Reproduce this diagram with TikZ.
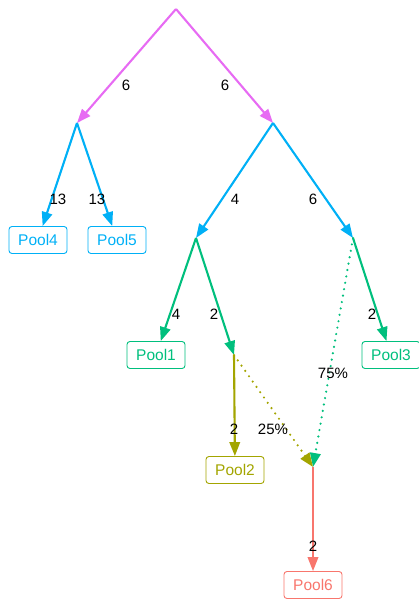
\documentclass[tikz,border=0pt]{standalone}
\usepackage{fontspec}
\setmainfont{Liberation Sans}
\usetikzlibrary{arrows.meta, positioning}

\definecolor{poolMag}{HTML}{E76BF3}
\definecolor{poolBlue}{HTML}{00B0F6}
\definecolor{poolGreen}{HTML}{00BF7D}
\definecolor{poolOlive}{HTML}{A3A500}
\definecolor{poolRed}{HTML}{F8766D}

\tikzset{
    pool/.style={draw, rounded corners=3pt, line width=0.9pt, minimum width=58pt,
                 minimum height=27pt, inner sep=1pt, font=\fontsize{15.5}{17}\selectfont},
    flow/.style={line width=2.1pt, -{Triangle[length=14pt,width=10.5pt]}},
    split/.style={flow, line width=2.4pt, dash pattern=on 0pt off 6.5pt, line cap=round},
    amount/.style={inner sep=0pt, font=\fontsize{15}{17}\selectfont},
}

\begin{document}
\begin{tikzpicture}[x=1pt, y=-1pt]
    \useasboundingbox (0,0) rectangle (419,599);

    % branching points
    \coordinate (root) at (176,9);
    \coordinate (b1) at (77,123);
    \coordinate (b2) at (273,123);
    \coordinate (b3) at (196,238);
    \coordinate (b4) at (353,238);
    \coordinate (b5) at (234,355);
    \coordinate (b6) at (313,467);

    % pools
    \node[pool, poolBlue] (pool4) at (38,240) {Pool4};
    \node[pool, poolBlue] (pool5) at (117,240) {Pool5};
    \node[pool, poolGreen] (pool1) at (156,355) {Pool1};
    \node[pool, poolGreen] (pool3) at (391,355) {Pool3};
    \node[pool, poolOlive] (pool2) at (235,470) {Pool2};
    \node[pool, poolRed] (pool6) at (313,585) {Pool6};

    % flows
    \draw[flow, poolMag] (root) -- (b1);
    \draw[flow, poolMag] (root) -- (b2);
    \draw[flow, poolBlue] (b1) -- (pool4);
    \draw[flow, poolBlue] (b1) -- (pool5);
    \draw[flow, poolBlue] (b2) -- (b3);
    \draw[flow, poolBlue] (b2) -- (b4);
    \draw[flow, poolGreen] (b3) -- (pool1);
    \draw[flow, poolGreen] (b3) -- (b5);
    \draw[flow, poolGreen] (b4) -- (pool3);
    \draw[split, poolGreen] (b4) -- (b6);
    \draw[flow, poolOlive] (b5) -- (pool2);
    \draw[split, poolOlive] (b5) -- (b6);
    \draw[flow, poolRed] (b6) -- (pool6);

    % amounts
    \node[amount] (a1) at (126,85) {6};
    \node[amount] (a2) at (225,85) {6};
    \node[amount] (a3) at (58,199) {13};
    \node[amount] (a4) at (97,199) {13};
    \node[amount] (a5) at (235,199) {4};
    \node[amount] (a6) at (313,199) {6};
    \node[amount] (a7) at (176,314) {4};
    \node[amount] (a8) at (214,314) {2};
    \node[amount] (a9) at (372,314) {2};
    \node[amount] (a10) at (333,373) {75\%};
    \node[amount] (a11) at (234,429) {2};
    \node[amount] (a12) at (273,429) {25\%};
    \node[amount] (a13) at (313,546) {2};
\end{tikzpicture}
\end{document}
